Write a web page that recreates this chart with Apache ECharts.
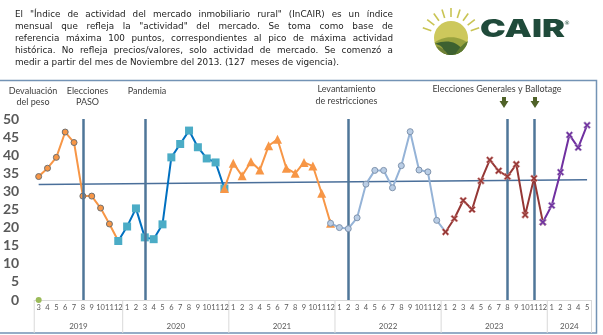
<!DOCTYPE html>
<html><head><meta charset="utf-8">
<script src="https://cdn.jsdelivr.net/npm/echarts@6/dist/echarts.min.js"></script>
<style>html,body{margin:0;padding:0;background:#fff}#c{width:603px;height:335px}</style>
</head><body><div id="c"></div>
<script>
// ---------- data ----------
const years = ['2019', '2020', '2021', '2022', '2023', '2024'];
const firstMonth = [3, 1, 1, 1, 1, 1];
const v2019 = [34.1, 36.4, 39.4, 46.4, 43.5, 28.7, 28.7, 25.4, 21.0, 16.3];
const v2020 = [20.3, 25.3, 17.3, 16.8, 20.9, 39.4, 43.1, 46.8, 42.2, 39.1, 38.0, 30.8];
const v2021 = [37.8, 34.3, 38.2, 35.9, 42.6, 44.4, 36.4, 35.0, 38.0, 37.0, 29.5, 21.2];
const v2022 = [20.0, 19.7, 22.7, 32.0, 35.8, 35.8, 31.0, 37.1, 46.5, 35.9, 35.4, 22.0];
const v2023 = [18.8, 22.5, 27.5, 25.0, 32.9, 38.7, 35.7, 34.1, 37.5, 23.5, 33.6, 21.5];
const v2024 = [26.1, 35.3, 45.6, 42.1, 48.3];
const yearValues = [v2019, v2020, v2021, v2022, v2023, v2024];
const trendValues = [31.9, 33.2];          // linear trend, first and last month
const baseValues = [0];                     // green dot at first month
const eventMonths = ['2019-8', '2020-3', '2022-2', '2023-8', '2023-11'];
const yMin = 0, yMax = 50, yStep = 5;
const paragraph = [
  'El "Índice de actividad del mercado inmobiliario rural" (InCAIR) es un índice',
  'mensual que refleja la "actividad" del mercado. Se toma como base de',
  'referencia máxima 100 puntos, correspondientes al pico de máxima actividad',
  'histórica. No refleja precios/valores, solo actividad de mercado. Se comenzó a',
  'medir a partir del mes de Noviembre del 2013. (127  meses de vigencia).'
];
const annotations = ['Devaluación\ndel peso', 'Elecciones\nPASO', 'Pandemia', 'Levantamiento\nde restricciones', 'Elecciones Generales y Ballotage'];
const logoText = 'CAIR';

// ---------- build categories ----------
const categories = [], allValues = [], yearStart = [], yearEnd = [];
years.forEach((y, k) => {
  yearStart.push(categories.length);
  yearValues[k].forEach((v, j) => { categories.push(y + '-' + (firstMonth[k] + j)); allValues.push(v); });
  yearEnd.push(categories.length - 1);
});
const N = categories.length;

const XSYM = 'path://M2,0 L5,3 L8,0 L10,2 L7,5 L10,8 L8,10 L5,7 L2,10 L0,8 L3,5 L0,2 Z';
const styles = [
  { line: '#f79646', symbol: 'circle', size: 6, fill: '#f79646', border: '#6f6f6f', bw: 1, prev: true, next: false },
  { line: '#0070c0', symbol: 'rect', size: 8, fill: '#4bacc6', border: '#4bacc6', bw: 0, prev: true, next: false },
  { line: '#f79646', symbol: 'triangle', size: 9, fill: '#f79646', border: '#f79646', bw: 0, prev: true, next: false },
  { line: '#95b3d7', symbol: 'circle', size: 6, fill: '#b9cde5', border: '#7f93ad', bw: 1, prev: true, next: true },
  { line: '#953735', symbol: XSYM, size: 7, fill: '#953735', border: '#d99694', bw: 0.6, prev: false, next: false },
  { line: '#7030a0', symbol: XSYM, size: 7, fill: '#7030a0', border: '#b3a2c7', bw: 0.6, prev: true, next: false }
];

const series = [];
const trendData = new Array(N).fill(null);
trendData[0] = trendValues[0]; trendData[N - 1] = trendValues[1];
series.push({
  type: 'line', data: trendData, connectNulls: true, symbol: 'none', silent: true,
  lineStyle: { color: '#4a6f9a', width: 1.5 }, z: 2,
  markLine: {
    silent: true, symbol: 'none', label: { show: false },
    lineStyle: { color: '#4f7699', width: 2.5, type: 'solid' },
    data: eventMonths.map(m => ({ xAxis: categories.indexOf(m) }))
  }
});
years.forEach((y, k) => {
  const st = styles[k];
  const from = (k > 0 && st.prev) ? yearStart[k] - 1 : yearStart[k];
  const to = yearEnd[k] + (st.next ? 1 : 0);
  const data = new Array(N).fill(null);
  for (let i = from; i <= to; i++) {
    data[i] = (st.next && i === to) ? { value: allValues[i], symbol: 'none' } : allValues[i];
  }
  series.push({
    type: 'line', data, symbol: st.symbol, symbolSize: st.size, showAllSymbol: true,
    lineStyle: { color: st.line, width: 2 },
    itemStyle: { color: st.fill, borderColor: st.border, borderWidth: st.bw },
    z: 3 + k, silent: true
  });
});
const baseData = new Array(N).fill(null);
baseData[0] = baseValues[0];
series.push({
  type: 'line', data: baseData, symbol: 'circle', symbolSize: 6,
  itemStyle: { color: '#9bbb59' }, lineStyle: { width: 0 }, z: 10, silent: true
});

const chart = echarts.init(document.getElementById('c'));
chart.setOption({
  animation: false,
  grid: { left: 32, right: 11.5, top: 119, bottom: 35 },
  xAxis: {
    type: 'category', data: categories, boundaryGap: true,
    axisLine: { lineStyle: { color: '#d9d9d9', width: 1 } },
    axisTick: { show: false },
    axisLabel: {
      interval: 0, fontSize: 7.5, color: '#595959', fontFamily: 'Lato', margin: 4,
      formatter: v => v.split('-')[1]
    }
  },
  yAxis: {
    type: 'value', min: yMin, max: yMax, interval: yStep,
    axisLine: { show: false }, axisTick: { show: false }, splitLine: { show: false },
    axisLabel: { fontSize: 14, fontWeight: 'bold', color: '#595959', fontFamily: 'Lato', margin: 15 }
  },
  series
});

// ---------- graphics ----------
const g = [];
g.push({ type: 'rect', shape: { x: -2, y: 80.5, width: 598.5, height: 252.5 }, style: { fill: 'none', stroke: '#7393b5', lineWidth: 1.5 }, silent: true, z: 0 });

// paragraph (justified)
const cv = document.createElement('canvas').getContext('2d');
const pFont = '8.8px "DejaVu Sans"';
cv.font = pFont;
const pLeft = 15, pRight = 393, pTop = 15, pLine = 12;
paragraph.forEach((line, i) => {
  const y = pTop + i * pLine;
  if (i === paragraph.length - 1) {
    g.push({ type: 'text', x: pLeft, y, style: { text: line, font: pFont, fill: '#222', verticalAlign: 'middle' }, silent: true });
    return;
  }
  const words = line.split(' ');
  const widths = words.map(w => cv.measureText(w).width);
  const total = widths.reduce((a, b) => a + b, 0);
  const gap = (pRight - pLeft - total) / (words.length - 1);
  let x = pLeft;
  words.forEach((w, j) => {
    g.push({ type: 'text', x, y, style: { text: w, font: pFont, fill: '#222', verticalAlign: 'middle' }, silent: true });
    x += widths[j] + gap;
  });
});

// logo
const cx = 451, cy = 38, r = 17;
for (let a = 200; a <= 340; a += 17.5) {
  const t = a * Math.PI / 180;
  g.push({ type: 'line', shape: { x1: cx + 21 * Math.cos(t), y1: cy + 21 * Math.sin(t), x2: cx + 30 * Math.cos(t), y2: cy + 30 * Math.sin(t) }, style: { stroke: '#c9c453', lineWidth: 1.6 }, silent: true });
}
g.push({ type: 'circle', shape: { cx, cy, r }, style: { fill: '#cdc85c' }, silent: true });
const P = deg => { const t = deg * Math.PI / 180; return [cx + r * Math.cos(t), cy + r * Math.sin(t)]; };
const quad = (p0, c, p1) => { const pts = []; for (let i = 0; i <= 12; i++) { const t = i / 12, u = 1 - t; pts.push([u * u * p0[0] + 2 * u * t * c[0] + t * t * p1[0], u * u * p0[1] + 2 * u * t * c[1] + t * t * p1[1]]); } return pts; };
const arc = (a0, a1) => { const pts = []; for (let i = 0; i <= 16; i++) pts.push(P(a0 + (a1 - a0) * i / 16)); return pts; };
const field = (pts, fill) => g.push({ type: 'polygon', shape: { points: pts }, style: { fill }, silent: true });
field(quad(P(165), [cx, cy - 6], P(15)).concat(arc(15, 165)), '#98a23e');
field(quad(P(160), [cx + 2, cy - 1], P(45)).concat(arc(45, 118)).concat(quad(P(118), [cx - 6, cy + 8], P(160))), '#3d6130');
field(quad(P(150), [cx - 8, cy + 9], P(100)).concat(arc(100, 150)), '#6f8136');
field(quad(P(10), [cx + 8, cy + 9], P(75)).concat(arc(75, 10)), '#5d7a30');
const lFont = '900 25px Inter';
cv.font = lFont;
const lw = cv.measureText(logoText).width;
g.push({ type: 'text', x: 480, y: 29.5, scaleX: 85 / lw, style: { text: logoText, font: lFont, fill: '#1f4a3a', verticalAlign: 'middle' }, silent: true });
g.push({ type: 'text', x: 567, y: 23, style: { text: '®', font: '6px "DejaVu Sans"', fill: '#1f4a3a', align: 'center', verticalAlign: 'middle' }, silent: true });

// annotations
const annPos = [[33, 85], [87.5, 85], [147, 85], [346.5, 83.5], [497, 83.5]];
annotations.forEach((t, i) => {
  g.push({ type: 'text', x: annPos[i][0], y: annPos[i][1], style: { text: t, font: '9px Lato', fill: '#404040', align: 'center', verticalAlign: 'top', lineHeight: 11.5 }, silent: true });
});
[504, 535].forEach(ax2 => {
  g.push({ type: 'polygon', shape: { points: [[ax2 - 2, 97], [ax2 + 2, 97], [ax2 + 2, 101], [ax2 + 4.5, 101], [ax2, 108], [ax2 - 4.5, 101], [ax2 - 2, 101]] }, style: { fill: '#4f6228' }, silent: true });
});

// year separators & labels
const px = i => chart.convertToPixel({ xAxisIndex: 0 }, categories[i]);
const step = px(1) - px(0);
const axisY = 300;
years.forEach((y, k) => {
  const l = px(yearStart[k]) - step / 2, rr = px(yearEnd[k]) + step / 2;
  g.push({ type: 'line', shape: { x1: l, y1: axisY, x2: l, y2: 333 }, style: { stroke: '#d9d9d9', lineWidth: 1 }, silent: true });
  if (k === years.length - 1) g.push({ type: 'line', shape: { x1: rr, y1: axisY, x2: rr, y2: 333 }, style: { stroke: '#d9d9d9', lineWidth: 1 }, silent: true });
  g.push({ type: 'text', x: (l + rr) / 2, y: 326.5, style: { text: y, font: '8px Lato', fill: '#595959', align: 'center', verticalAlign: 'middle' }, silent: true });
});

chart.setOption({ graphic: { elements: g } });
</script>
</body></html>
